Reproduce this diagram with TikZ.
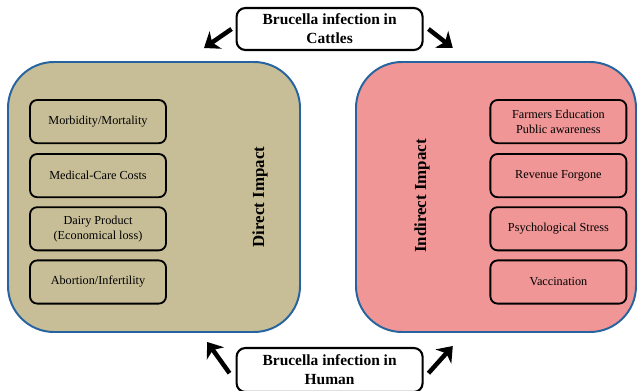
\documentclass[tikz,border=0pt]{standalone}
\usepackage{fontspec}
\setmainfont{Liberation Serif}
\usepackage{xcolor}
\usetikzlibrary{arrows.meta}
\definecolor{caqui}{RGB}{199,190,151}
\definecolor{rosa}{RGB}{240,150,150}
\definecolor{borde}{RGB}{38,100,160}

\begin{document}
\begin{tikzpicture} %Impacto de la brucelosis
  [
    % estilos para no repetir codigo
    grande/.style={draw=borde, line width=1.4pt, rounded corners=1.15cm, minimum width=7.3cm, minimum height=6.75cm},
    caja/.style={draw, line width=1.3pt, rounded corners=0.18cm, minimum width=3.4cm, minimum height=1.08cm, inner sep=0pt, align=center, font=\fontsize{8.7}{10.6}\selectfont},
    fuente/.style={draw, line width=1.5pt, rounded corners=0.22cm, minimum width=4.65cm, minimum height=1.05cm, inner sep=0pt, align=center, fill=white, font=\fontsize{11}{13.5}\selectfont\bfseries},
    flecha/.style={line width=3.2pt, -{Stealth[length=10pt,width=15pt,inset=3pt]}},
    titulo/.style={rotate=90, font=\fontsize{12}{14}\selectfont\bfseries}
  ]
  \useasboundingbox (0,0) rectangle (15.925,9.75);
  % cajas grandes
  \node[grande, fill=caqui] (dir) at (3.85,4.825) {};
  \node[grande, fill=rosa, minimum width=7.0cm] (ind) at (12.4,4.825) {};
  \node[titulo] (tdir) at (6.5,4.825) {Direct Impact};
  \node[titulo] (tind) at (10.55,4.85) {Indirect Impact};
  % impacto directo
  \node[caja] (m1) at (2.45,6.71) {Morbidity/Mortality};
  \node[caja] (m2) at (2.45,5.36) {Medical-Care Costs};
  \node[caja] (m3) at (2.45,4.03) {Dairy Product\\(Economical loss)};
  \node[caja] (m4) at (2.45,2.70) {Abortion/Infertility};
  % impacto indirecto
  \node[caja] (i1) at (13.96,6.71) {Farmers Education\\Public awareness};
  \node[caja] (i2) at (13.96,5.36) {Revenue Forgone};
  \node[caja] (i3) at (13.96,4.03) {Psychological Stress};
  \node[caja] (i4) at (13.96,2.70) {Vaccination};
  % origen de la infeccion
  \node[fuente] (cattle) at (8.24,9.025) {Brucella infection in\\Cattles};
  \node[fuente, minimum height=1.1cm] (human) at (8.24,0.5) {Brucella infection in\\Human};
  \coordinate (a1) at (5.1,8.55);
  \coordinate (a2) at (11.32,8.55);
  \coordinate (a3) at (5.18,1.2);
  \coordinate (a4) at (11.32,1.1);
  \draw[flecha] ([xshift=-0.1cm]cattle.west) -- (a1);
  \draw[flecha] ([xshift=0.12cm]cattle.east) -- (a2);
  \draw[flecha] ([shift={(-0.15cm,-0.08cm)}]human.west) -- (a3);
  \draw[flecha] ([shift={(0.12cm,-0.08cm)}]human.east) -- (a4);

\end{tikzpicture}
\end{document}
